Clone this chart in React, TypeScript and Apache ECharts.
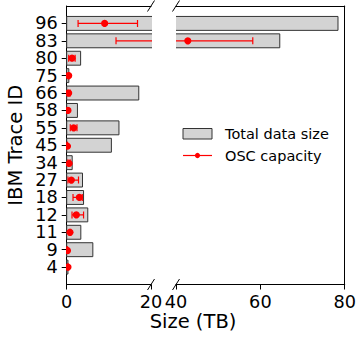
import React, { useEffect, useRef } from "react";
import * as echarts from "echarts";

const categories = ["4", "9", "11", "12", "18", "27", "34", "45", "55", "58", "66", "75", "80", "83", "96"];
const totalDataSize = [0.3, 6.2, 3.35, 5.0, 4.0, 3.75, 1.3, 10.6, 12.4, 2.55, 17.1, 0.5, 3.3, 64.6, 78.4];
const oscCapacity = [0.3, 0.15, 0.78, 2.28, 3.0, 1.1, 0.55, 0.15, 1.66, 0.3, 0.47, 0.47, 1.26, 42.8, 9.0];
const oscLow = [0.2, 0.1, 0.6, 1.26, 1.5, 0.3, 0.3, 0.1, 0.85, 0.2, 0.3, 0.35, 0.47, 11.7, 2.7];
const oscHigh = [0.4, 0.2, 0.95, 4.0, 3.7, 2.8, 0.8, 0.2, 2.44, 0.4, 0.8, 0.6, 2.0, 58.2, 16.8];
const leftTicks = [0, 20];
const rightTicks = [40, 60, 80];

const FONT = "DejaVu Sans";
const paddedCats = ["", ...categories, ""];

const L_LEFT = 66.7;
const L_RIGHT = 151;
const R_LEFT = 176;
const R_RIGHT = 345.7;
const TOP = 6;
const BOTTOM = 284.5;

function barRender(params: any, api: any) {
  const v = api.value(0);
  const idx = api.value(1);
  const s = api.coord([0, idx]);
  const e = api.coord([v, idx]);
  const band = Math.abs(api.coord([0, idx + 1])[1] - s[1]);
  const h = band * 0.8;
  return {
    type: "rect",
    shape: { x: s[0], y: s[1] - h / 2, width: e[0] - s[0], height: h },
    style: { fill: "#d3d3d3", stroke: "#333333", lineWidth: 1 },
  };
}

function errRender(params: any, api: any) {
  const v = api.value(0);
  const idx = api.value(1);
  const lo = api.value(2);
  const hi = api.value(3);
  const p = api.coord([v, idx]);
  const a = api.coord([lo, idx]);
  const b = api.coord([hi, idx]);
  const cap = 3.5;
  const st = { stroke: "#ff0000", lineWidth: 1.2 };
  return {
    type: "group",
    children: [
      { type: "line", shape: { x1: a[0], y1: a[1], x2: b[0], y2: b[1] }, style: st },
      { type: "line", shape: { x1: a[0], y1: a[1] - cap, x2: a[0], y2: a[1] + cap }, style: st },
      { type: "line", shape: { x1: b[0], y1: b[1] - cap, x2: b[0], y2: b[1] + cap }, style: st },
      { type: "circle", shape: { cx: p[0], cy: p[1], r: 3.6 }, style: { fill: "#ff0000" } },
    ],
  };
}

export default function App() {
  const ref = useRef<HTMLDivElement>(null);
  useEffect(() => {
    document.body.style.margin = "0";
    const chart = echarts.init(ref.current!, null, { renderer: "svg" });
    const barData = totalDataSize.map((v, i) => [v, i + 1]);
    const errData = oscCapacity.map((v, i) => [v, i + 1, oscLow[i], oscHigh[i]]);
    const labelStyle = { fontSize: 17.7, color: "#000", fontFamily: FONT };
    const line = { show: true, onZero: false, lineStyle: { color: "#000", width: 1 } };
    const noTick = { show: false };
    const mkBreak = (cx: number, cy: number) => ({
      type: "line",
      shape: { x1: cx - 3.5, y1: cy + 5.5, x2: cx + 3.5, y2: cy - 5.5 },
      style: { stroke: "#000", lineWidth: 1 },
      z: 100,
    });
    chart.setOption({
      animation: false,
      backgroundColor: "#ffffff",
      textStyle: { fontFamily: FONT },
      grid: [
        { left: L_LEFT, top: TOP, width: L_RIGHT - L_LEFT, height: BOTTOM - TOP },
        { left: R_LEFT, top: TOP, width: R_RIGHT - R_LEFT, height: BOTTOM - TOP },
      ],
      xAxis: [
        {
          gridIndex: 0, type: "value", position: "bottom",
          min: leftTicks[0], max: leftTicks[leftTicks.length - 1], interval: 20,
          axisLine: line, axisTick: { show: true, length: 5, lineStyle: { color: "#000" } },
          axisLabel: { ...labelStyle, margin: 8 }, splitLine: { show: false },
        },
        {
          gridIndex: 0, type: "value", position: "top", min: 0, max: 20,
          axisLine: line, axisTick: noTick, axisLabel: { show: false }, splitLine: { show: false },
        },
        {
          gridIndex: 1, type: "value", position: "bottom",
          min: rightTicks[0], max: rightTicks[rightTicks.length - 1], interval: 20,
          axisLine: line, axisTick: { show: true, length: 5, lineStyle: { color: "#000" } },
          axisLabel: { ...labelStyle, margin: 8 }, splitLine: { show: false },
        },
        {
          gridIndex: 1, type: "value", position: "top", min: 40, max: 80,
          axisLine: line, axisTick: noTick, axisLabel: { show: false }, splitLine: { show: false },
        },
      ],
      yAxis: [
        {
          gridIndex: 0, type: "category", data: paddedCats, boundaryGap: false, position: "left",
          axisLine: line,
          axisTick: {
            show: true, length: 5, lineStyle: { color: "#000" },
            interval: (i: number) => i > 0 && i < paddedCats.length - 1,
          },
          axisLabel: { ...labelStyle, interval: 0, margin: 9, lineHeight: 16 },
          name: "IBM Trace ID", nameLocation: "middle", nameRotate: 90, nameGap: 41,
          nameTextStyle: { fontSize: 19.5, color: "#000", fontFamily: FONT },
        },
        {
          gridIndex: 1, type: "category", data: paddedCats, boundaryGap: false, position: "right",
          axisLine: line, axisTick: noTick, axisLabel: { show: false },
        },
      ],
      series: [
        { type: "custom", xAxisIndex: 0, yAxisIndex: 0, clip: true, renderItem: barRender, data: barData, encode: { x: 0, y: 1 } },
        { type: "custom", xAxisIndex: 2, yAxisIndex: 1, clip: true, renderItem: barRender, data: barData, encode: { x: 0, y: 1 } },
        { type: "custom", xAxisIndex: 0, yAxisIndex: 0, clip: true, renderItem: errRender, data: errData, encode: { x: 0, y: 1 }, z: 3 },
        { type: "custom", xAxisIndex: 2, yAxisIndex: 1, clip: true, renderItem: errRender, data: errData, encode: { x: 0, y: 1 }, z: 3 },
      ],
      graphic: [
        mkBreak(L_RIGHT, TOP),
        mkBreak(R_LEFT, TOP),
        mkBreak(L_RIGHT, BOTTOM),
        mkBreak(R_LEFT, BOTTOM),
        {
          type: "rect", shape: { x: 183, y: 128.5, width: 29, height: 10.5 },
          style: { fill: "#d3d3d3", stroke: "#333333", lineWidth: 1 },
        },
        {
          type: "text", x: 225, y: 133.7,
          style: { text: "Total data size", fontSize: 14.5, fontFamily: FONT, fill: "#000", verticalAlign: "middle", align: "left" },
        },
        {
          type: "line", shape: { x1: 183, y1: 155.5, x2: 212, y2: 155.5 },
          style: { stroke: "#ff0000", lineWidth: 1.2 },
        },
        { type: "circle", shape: { cx: 197.5, cy: 155.5, r: 2.6 }, style: { fill: "#ff0000" } },
        {
          type: "text", x: 225, y: 155.7,
          style: { text: "OSC capacity", fontSize: 14.5, fontFamily: FONT, fill: "#000", verticalAlign: "middle", align: "left" },
        },
        {
          type: "text", x: 193, y: 321,
          style: { text: "Size (TB)", fontSize: 19.5, fontFamily: FONT, fill: "#000", verticalAlign: "middle", align: "center" },
        },
      ],
    });
    return () => chart.dispose();
  }, []);
  return <div ref={ref} style={{ width: 359, height: 337 }} />;
}
